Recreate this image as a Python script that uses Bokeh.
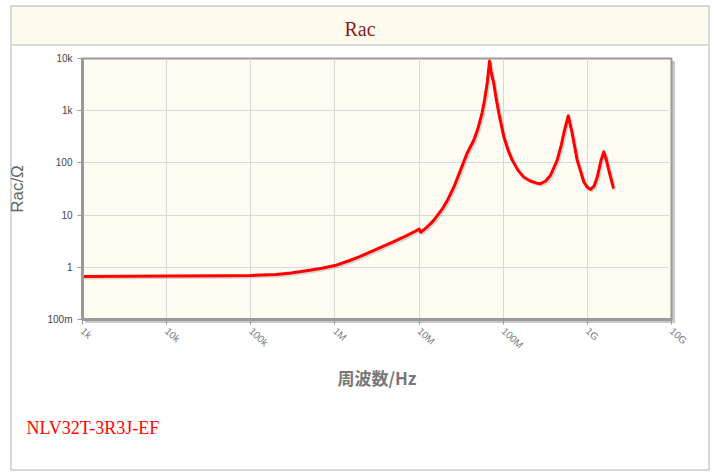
import numpy as np
from bokeh.plotting import figure
from bokeh.models import FixedTicker, Title
from bokeh.embed import file_html
from bokeh.resources import INLINE

# ---- data ----
freq_hz = [1e3, 1e4, 5e4, 1e5, 2e5, 3e5, 5e5, 7e5, 1e6, 1.5e6, 2e6, 3e6, 5e6, 7e6, 9e6,
           1.0e7, 1.05e7, 1.1e7, 1.3e7, 1.5e7, 1.88e7, 2.2e7, 2.6e7, 3.1e7, 3.7e7,
           4.48e7, 5.0e7, 5.6e7, 6.0e7, 6.45e7, 6.88e7, 7.2e7, 7.7e7, 8.2e7, 8.87e7,
           1.016e8, 1.15e8, 1.28e8, 1.5e8, 1.76e8, 2.11e8, 2.5e8, 2.77e8, 3.2e8, 3.65e8,
           4.38e8, 4.9e8, 5.25e8, 5.93e8, 6.6e8, 7.57e8, 9.08e8, 1.0e9, 1.09e9, 1.2e9,
           1.31e9, 1.45e9, 1.57e9, 1.68e9, 1.8e9, 2.03e9]
rac_ohm = [0.67, 0.68, 0.69, 0.70, 0.73, 0.78, 0.88, 0.96, 1.08, 1.35, 1.62, 2.15, 3.1, 4.0, 4.9,
           5.4, 4.7, 5.0, 6.3, 8.0, 13, 20, 35, 72, 150,
           275, 450, 900, 1600, 3400, 9000, 5500, 3400, 1800, 900,
           318, 170, 113, 72, 53, 45, 41, 40, 45, 58,
           113, 220, 370, 800, 370, 113, 43, 34, 31, 36,
           53, 110, 163, 115, 72, 34]

x_tick_values = [1e3, 1e4, 1e5, 1e6, 1e7, 1e8, 1e9, 1e10]
x_tick_labels = ["1k", "10k", "100k", "1M", "10M", "100M", "1G", "10G"]
y_tick_values = [0.1, 1, 10, 100, 1000, 10000]
y_tick_labels = ["100m", "1", "10", "100", "1k", "10k"]

title_text = "Rac"
x_label = "周波数/Hz"
y_label = "Rac/Ω"
part_number = "NLV32T-3R3J-EF"

W, H = 717, 472


def css_rect(color, x, y, w, h):
    return f"linear-gradient({color},{color}) {x}px {y}px / {w}px {h}px no-repeat"


card_line = "#d8d8d8"
card_background = ", ".join([
    css_rect(card_line, 10, 5, 2, 466),        # left border
    css_rect(card_line, 708, 5, 2, 466),       # right border
    css_rect(card_line, 10, 5, 700, 2),        # top border
    css_rect(card_line, 10, 469, 700, 2),      # bottom border
    css_rect(card_line, 10, 44, 700, 2),       # header separator
    css_rect("#fffaee", 10, 5, 700, 40),       # header band
    css_rect("#c9c9c9", 672, 61, 3, 262),      # frame shadow right
    css_rect("#c9c9c9", 85, 320, 590, 3),      # frame shadow bottom
])

p = figure(width=W, height=H, x_axis_type="log", y_axis_type="log",
           x_range=(1e3, 1e10), y_range=(0.1, 1e4),
           output_backend="svg", toolbar_location=None,
           min_border_left=82, min_border_right=46, min_border_top=58, min_border_bottom=153,
           styles={"background": card_background + ", #ffffff"})

p.background_fill_color = "#fffcf3"
p.border_fill_color = None
p.outline_line_color = "#999999"
p.outline_line_width = 2

# title
p.title.text = title_text
p.title.align = "left"
p.title.offset = 262
p.title.text_font = "Liberation Serif"
p.title.text_font_size = "20px"
p.title.text_font_style = "normal"
p.title.text_color = "#8b1a1a"
p.title.vertical_align = "top"
p.title.standoff = 33

# curve with light shadow
xs = np.array(freq_hz)
ys = np.array(rac_ohm)
p.line(xs * 10 ** (1.5 / 84), ys * 10 ** (-1.5 / 52), line_color="#888888", line_alpha=0.35,
       line_width=3, line_join="round", line_cap="round")
p.line(xs, ys, line_color="#ff0000", line_width=3, line_join="round", line_cap="round")

# axes
xt = FixedTicker(ticks=x_tick_values, minor_ticks=[])
yt = FixedTicker(ticks=y_tick_values, minor_ticks=[])
p.xaxis.ticker = xt
p.yaxis.ticker = yt
p.xgrid.ticker = xt
p.ygrid.ticker = yt
p.xaxis.major_label_overrides = {v: l for v, l in zip(x_tick_values, x_tick_labels)}
p.yaxis.major_label_overrides = {v: l for v, l in zip(y_tick_values, y_tick_labels)}

for ax in (p.xaxis, p.yaxis):
    ax.axis_line_color = "#999999"
    ax.axis_line_width = 3
    ax.major_tick_line_color = "#999999"
    ax.major_tick_out = 5
    ax.major_tick_in = 0
    ax.minor_tick_line_color = None
    ax.major_label_text_font = "Liberation Sans"
    ax.major_label_text_font_size = "10px"
    ax.axis_label_text_font_style = "normal"

p.yaxis.major_label_text_color = "#444444"
p.xaxis.major_label_text_color = "#777777"
p.xaxis.major_label_orientation = -0.75

p.yaxis.axis_label = y_label
p.yaxis.axis_label_text_font = "Liberation Sans"
p.yaxis.axis_label_text_font_size = "17px"
p.yaxis.axis_label_text_color = "#666666"
p.yaxis.axis_label_standoff = 17

p.xaxis.axis_label = x_label
p.xaxis.axis_label_text_font = "Noto Sans CJK JP"
p.xaxis.axis_label_text_font_size = "17px"
p.xaxis.axis_label_text_font_style = "bold"
p.xaxis.axis_label_text_color = "#777777"
p.xaxis.axis_label_standoff = 7

p.grid.grid_line_color = "#d9d9d9"
p.grid.grid_line_width = 1

p.add_layout(Title(text=part_number, align="left", text_color="#ff0000",
                   text_font="Liberation Serif", text_font_size="18px",
                   text_font_style="normal", standoff=46, offset=-56), "below")

open("out.html", "w").write(file_html(p, INLINE))
